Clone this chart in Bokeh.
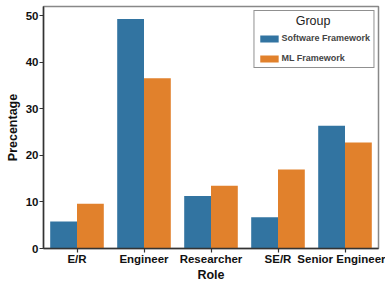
from bokeh.plotting import figure
from bokeh.models import FactorRange, Range1d, ColumnDataSource, Legend, LegendItem, FixedTicker
from bokeh.transform import dodge
from bokeh.embed import file_html
from bokeh.resources import INLINE

roles = ["E/R", "Engineer", "Researcher", "SE/R", "Senior Engineer"]
software = [5.8, 49.3, 11.3, 6.7, 26.4]
ml = [9.6, 36.6, 13.5, 17.0, 22.8]
groups = ["Software Framework", "ML Framework"]
legend_title = "Group"
colors = ["#3274a1", "#e1812c"]
y_ticks = [0, 10, 20, 30, 40, 50]

src = ColumnDataSource(dict(role=roles, sw=software, ml=ml))

p = figure(x_range=FactorRange(factors=roles, range_padding=0), y_range=Range1d(0, 52),
           width=385, height=284, output_backend="svg", toolbar_location=None,
           min_border_top=6, min_border_right=7, min_border_left=43, min_border_bottom=0)

r1 = p.vbar(x=dodge("role", -0.2, range=p.x_range), top="sw", width=0.4, source=src,
            fill_color=colors[0], line_color=None)
r2 = p.vbar(x=dodge("role", 0.2, range=p.x_range), top="ml", width=0.4, source=src,
            fill_color=colors[1], line_color=None)

p.xgrid.visible = False
p.ygrid.visible = False
p.outline_line_color = "#888888"
p.outline_line_width = 1.5

for ax in (p.xaxis[0], p.yaxis[0]):
    ax.axis_line_color = "#333333"
    ax.axis_line_width = 1.5
    ax.major_tick_line_color = "#333333"
    ax.major_tick_line_width = 1.2
    ax.major_tick_out = 4
    ax.major_tick_in = 0
    ax.minor_tick_out = 0
    ax.minor_tick_in = 0
    ax.major_label_text_font = "Liberation Sans"
    ax.major_label_text_font_style = "bold"
    ax.major_label_text_font_size = "11.5px"
    ax.major_label_text_color = "#111111"
    ax.axis_label_text_font = "Liberation Sans"
    ax.axis_label_text_font_style = "bold"
    ax.axis_label_text_font_size = "12.5px"
    ax.axis_label_text_color = "#111111"

p.yaxis.ticker = FixedTicker(ticks=y_ticks)
p.yaxis.axis_label = "Precentage"
p.xaxis.axis_label = "Role"
p.yaxis.major_label_standoff = 1
p.yaxis.axis_label_standoff = 3
p.xaxis.major_label_standoff = 0
p.xaxis.axis_label_standoff = 0

legend = Legend(items=[LegendItem(label=groups[0], renderers=[r1]),
                       LegendItem(label=groups[1], renderers=[r2])],
                location="top_right", title="\u00a0" * 11 + legend_title,
                title_text_font="Liberation Sans", title_text_font_style="normal",
                title_text_font_size="12.5px", title_text_color="#222222", title_standoff=4,
                label_text_font="Liberation Sans", label_text_font_style="bold",
                label_text_font_size="9px", label_standoff=1, label_height=12,
                glyph_width=23, glyph_height=9, spacing=8, padding=3, margin=4,
                border_line_color="#222222", border_line_width=1.2,
                background_fill_color="white", background_fill_alpha=1)
p.add_layout(legend)

open("out.html", "w").write(file_html(p, INLINE))
